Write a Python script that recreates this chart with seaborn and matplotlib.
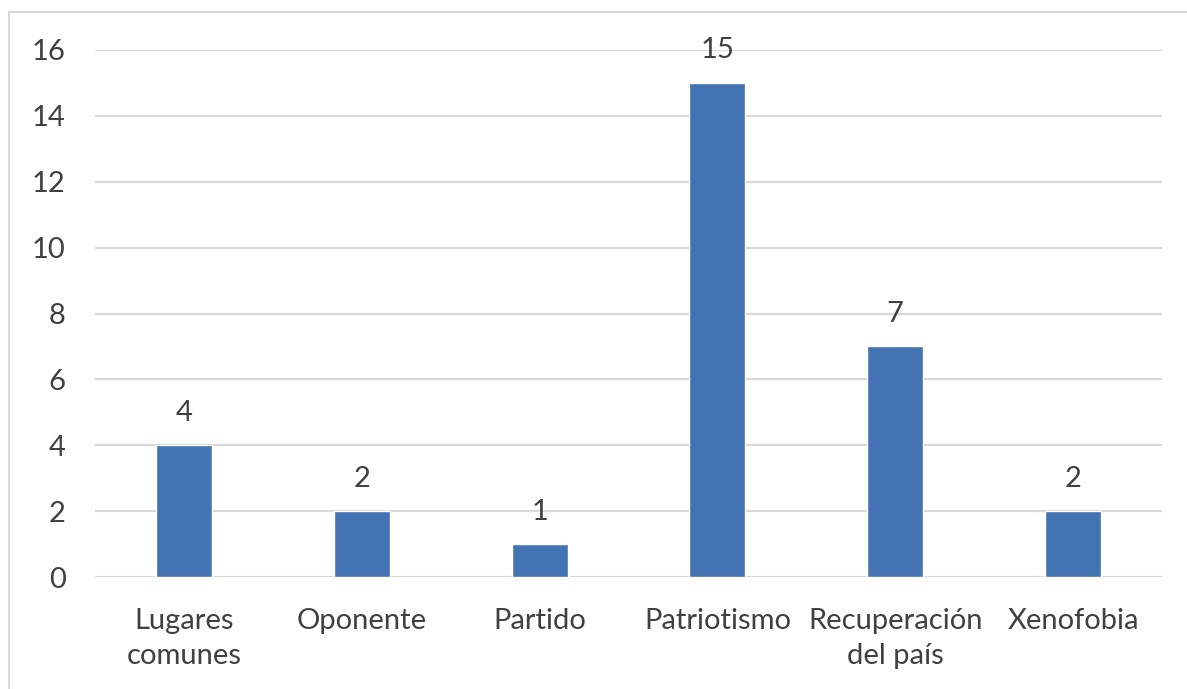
import matplotlib
matplotlib.use("Agg")
import matplotlib.pyplot as plt
import seaborn as sns
import pandas as pd
from matplotlib.lines import Line2D

categories = ["Lugares\ncomunes", "Oponente", "Partido", "Patriotismo", "Recuperación\ndel país", "Xenofobia"]
values = [4, 2, 1, 15, 7, 2]
yticks = [0, 2, 4, 6, 8, 10, 12, 14, 16]

sns.set_theme(style="white")
plt.rcParams['font.family'] = ['Lato', 'DejaVu Sans']

df = pd.DataFrame({"cat": categories, "val": values})

fig = plt.figure(figsize=(11.87, 6.89), dpi=100)
ax = fig.add_axes([95/1187, 1-577/689, (1162-95)/1187, (577-50)/689])

sns.barplot(data=df, x="cat", y="val", color="#4473B3", width=0.315, ax=ax, saturation=1)

ax.set_ylim(0, 16)
ax.set_yticks(yticks)
ax.set_xlim(-0.5, len(categories)-0.5)
ax.yaxis.grid(True, color="#d9d9d9", linewidth=1.6)
ax.set_axisbelow(True)
for s in ax.spines.values():
    s.set_visible(False)
ax.set_xlabel("")
ax.set_ylabel("")
ax.tick_params(axis="y", labelsize=21, colors="#404040", length=0, pad=21)
ax.tick_params(axis="x", labelsize=21, colors="#404040", length=0, pad=22)
for lbl in ax.get_xticklabels():
    lbl.set_linespacing(1.45)

for container in ax.containers:
    ax.bar_label(container, labels=[str(v) for v in values], padding=14, fontsize=21, color="#404040")

# outer frame (chart area border)
fig.add_artist(Line2D([9/1187, 9/1187], [0, 1-12/689], color="#d9d9d9", linewidth=1.5, transform=fig.transFigure))
fig.add_artist(Line2D([9/1187, 1], [1-12/689, 1-12/689], color="#d9d9d9", linewidth=1.5, transform=fig.transFigure))

fig.savefig("out.png", dpi=100, facecolor="white")
